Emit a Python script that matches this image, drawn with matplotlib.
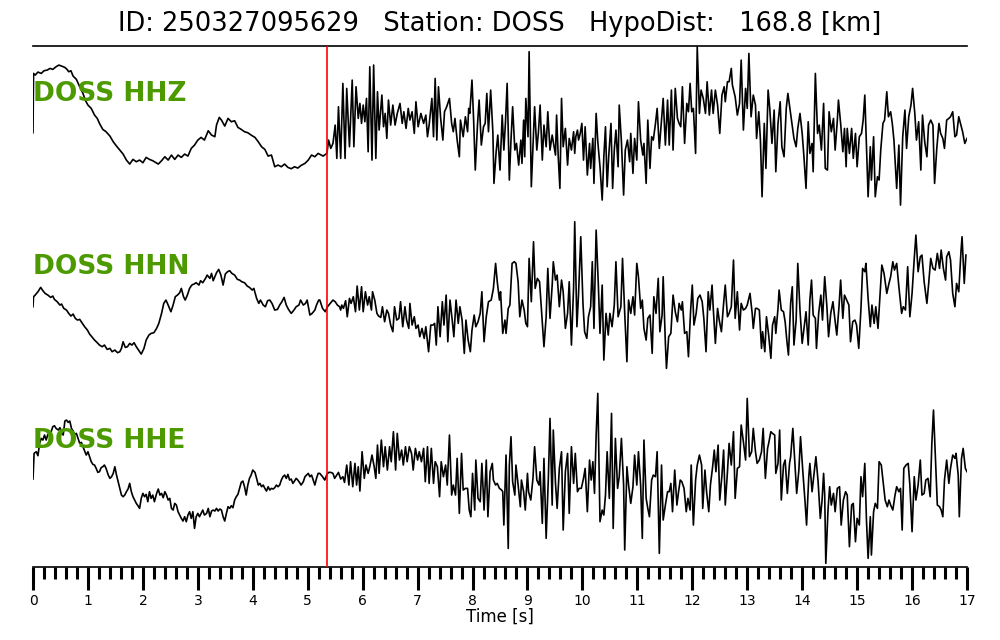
import matplotlib
matplotlib.use('Agg')
import matplotlib.pyplot as plt
from matplotlib.ticker import MultipleLocator

# ---------------- data ----------------
event_id = '250327095629'
station = 'DOSS'
hypo_dist = 168.8
channels = ['HHZ', 'HHN', 'HHE']
pick_time = 5.35          # red marker [s]
t_end = 17
time_ticks = list(range(0, 18))

# (time [s], amplitude [counts]) samples at local extrema of each trace
HHZ = [
    (0.00, -18), (0.01, 160), (0.04, 155), (0.09, 164), (0.15, 160), (0.20, 168), (0.26, 170), (0.31, 175),
    (0.36, 172), (0.42, 180), (0.47, 185), (0.52, 182), (0.58, 178), (0.62, 172), (0.65, 165), (0.69, 168),
    (0.73, 152), (0.79, 142), (0.85, 120), (0.91, 100), (0.95, 80), (1.00, 65), (1.06, 55), (1.12, 35),
    (1.17, 25), (1.21, 10), (1.27, -8), (1.33, -15), (1.40, -28), (1.46, -45), (1.52, -58), (1.58, -70),
    (1.64, -82), (1.70, -100), (1.76, -112), (1.82, -98), (1.88, -105), (1.94, -100), (2.00, -108), (2.06, -92),
    (2.12, -98), (2.18, -102), (2.28, -112), (2.34, -102), (2.40, -90), (2.46, -100), (2.52, -85), (2.58, -98),
    (2.64, -85), (2.70, -92), (2.76, -82), (2.82, -88), (2.88, -65), (2.94, -55), (3.00, -40), (3.06, -32),
    (3.12, -40), (3.19, -12), (3.25, -25), (3.31, -30), (3.34, 5), (3.39, 28), (3.43, 20), (3.49, 2),
    (3.55, 25), (3.61, 15), (3.67, 18), (3.73, -2), (3.79, -8), (3.85, -15), (3.91, -18), (3.97, -25),
    (4.04, -32), (4.10, -45), (4.16, -60), (4.22, -68), (4.28, -88), (4.34, -85), (4.40, -120), (4.46, -115),
    (4.52, -120), (4.58, -112), (4.64, -122), (4.70, -126), (4.76, -120), (4.82, -124), (4.88, -116), (4.95, -110),
    (5.01, -100), (5.07, -85), (5.13, -90), (5.19, -80),
    (5.28, -88), (5.35, -80), (5.38, -40), (5.42, -65), (5.46, -50), (5.50, 5), (5.53, -95), (5.56, 60),
    (5.60, -95), (5.64, 130), (5.68, -95), (5.71, 115), (5.76, -60), (5.81, 140), (5.84, -60), (5.88, 120),
    (5.92, 25), (5.95, 70), (5.98, 10), (6.01, 65), (6.04, 15), (6.07, 85), (6.10, -75), (6.13, 180),
    (6.17, -100), (6.20, 185), (6.24, -95), (6.27, 105), (6.30, -10), (6.35, 95), (6.38, 0), (6.41, 40),
    (6.44, -35), (6.47, 80), (6.51, 5), (6.55, 65), (6.59, 5), (6.63, 40), (6.68, 70), (6.72, 10),
    (6.75, 45), (6.79, -5), (6.83, 55), (6.86, 20), (6.90, 45), (6.94, -20), (6.97, 75), (7.01, 0),
    (7.06, 40), (7.11, 10), (7.15, 35), (7.18, -30), (7.21, 5), (7.26, 85), (7.29, -30), (7.32, 145),
    (7.35, -40), (7.38, 120), (7.42, 25), (7.46, -40), (7.49, 45), (7.53, 60), (7.58, 85), (7.62, 10),
    (7.65, -15), (7.68, 25), (7.72, -40), (7.76, -90), (7.78, 20), (7.83, -30), (7.87, 30), (7.91, -15),
    (7.93, 55), (7.95, 40), (7.99, 140), (8.02, 20), (8.05, -130), (8.09, 5), (8.12, 80), (8.16, -55),
    (8.20, 0), (8.23, 10), (8.26, 100), (8.29, -15), (8.33, 110), (8.37, -15), (8.39, -170), (8.43, -75),
    (8.46, -25), (8.50, -130), (8.54, 35), (8.57, -70), (8.60, 15), (8.63, 130), (8.67, -160), (8.70, -40),
    (8.73, 60), (8.77, -70), (8.80, -50), (8.84, -115), (8.88, -40), (8.90, -110), (8.93, 20), (8.95, -90),
    (8.97, 85), (9.01, -30), (9.03, 225), (9.07, -180), (9.10, -60), (9.13, 60), (9.17, -70), (9.20, -15),
    (9.23, 65), (9.27, -100), (9.30, 5), (9.34, -60), (9.37, 45), (9.41, -70), (9.45, -25), (9.47, -45),
    (9.51, -85), (9.53, 35), (9.56, -90), (9.59, -185), (9.62, 85), (9.65, -60), (9.69, -5), (9.73, -115),
    (9.76, -35), (9.80, -70), (9.84, -15), (9.86, -80), (9.88, -30), (9.91, -10), (9.93, -40), (9.96, -20),
    (9.99, 10), (10.02, -100), (10.05, 0), (10.09, -145), (10.13, -50), (10.15, -125), (10.19, -35), (10.21, -170),
    (10.25, 40), (10.28, -45), (10.32, -120), (10.36, -220), (10.39, -90), (10.42, 0), (10.45, -180), (10.48, -85),
    (10.52, 10), (10.55, -185), (10.58, -70), (10.61, -10), (10.65, -120), (10.67, 65), (10.71, -45), (10.75, -205),
    (10.78, -70), (10.82, -40), (10.86, -105), (10.88, -20), (10.92, -140), (10.95, -35), (10.99, -100), (11.02, 75),
    (11.06, -40), (11.10, -85), (11.12, -50), (11.16, -170),
    (11.19, 20), (11.23, -125), (11.26, -30), (11.29, -40), (11.33, 10), (11.36, 55), (11.40, -65), (11.44, 20),
    (11.47, 85), (11.51, -55), (11.55, 80), (11.58, -55), (11.62, 110), (11.65, -70), (11.69, 115), (11.73, 25),
    (11.76, 10), (11.79, 0), (11.82, 120), (11.86, -50), (11.90, 70), (11.93, 45), (11.96, 130), (11.99, 45),
    (12.02, 55), (12.06, -80), (12.09, 240), (12.13, 40), (12.16, 110), (12.20, 85), (12.24, 40), (12.27, 135),
    (12.31, 35), (12.35, 110), (12.38, 40), (12.42, 110), (12.46, 65), (12.50, -20), (12.54, 95), (12.58, 120),
    (12.60, 75), (12.64, 135), (12.67, 135), (12.71, 175), (12.73, 125), (12.78, 90), (12.82, 35), (12.86, 70),
    (12.89, 200), (12.93, -10), (12.97, 115), (13.00, 55), (13.03, 220), (13.07, 30), (13.11, 95), (13.15, 65),
    (13.17, -35), (13.21, 45), (13.24, -40), (13.27, -210), (13.31, 10), (13.34, -125), (13.38, 110), (13.41, 55),
    (13.45, -50), (13.49, 50), (13.52, -135), (13.56, 10), (13.60, 75), (13.63, -60), (13.67, -90), (13.71, 55),
    (13.74, 100), (13.78, 50), (13.82, 0), (13.85, -35), (13.89, -60), (13.92, -5), (13.96, 40), (14.00, -20),
    (14.03, -85), (14.07, -185), (14.11, 15), (14.14, -80), (14.18, -50), (14.20, -135), (14.24, 160), (14.28, -20),
    (14.31, 5), (14.35, -70), (14.39, 70), (14.42, -125), (14.46, -130), (14.49, 45), (14.53, -15), (14.57, 25),
    (14.60, -70), (14.64, 20), (14.66, 80), (14.70, 10), (14.74, -75), (14.77, -5), (14.80, -120), (14.82, -5),
    (14.86, -80), (14.90, -5), (14.93, -95), (14.97, -20), (15.00, -120), (15.04, -30), (15.08, -20), (15.11, 20),
    (15.14, 95), (15.17, -60), (15.20, -210), (15.24, -60), (15.26, -160), (15.30, -30), (15.33, -210), (15.37, -150),
    (15.40, -160), (15.43, -70), (15.47, 10), (15.50, 20), (15.54, 105), (15.57, 30), (15.61, 45), (15.64, 10),
    (15.67, -40), (15.72, -185), (15.76, -55), (15.79, -235), (15.83, -30), (15.87, 50), (15.90, -65), (15.94, 30),
    (15.98, 65), (16.01, 115), (16.05, 40), (16.08, -40), (16.12, 15), (16.16, -130), (16.19, 35), (16.23, -45),
    (16.27, -90), (16.30, 5), (16.34, 20), (16.38, 5), (16.41, -170), (16.45, -65), (16.49, 10), (16.52, -20),
    (16.56, -35), (16.59, -65), (16.63, 20), (16.67, 25), (16.70, 30), (16.74, 45), (16.78, -30), (16.81, -25),
    (16.85, 30), (16.89, 5), (16.92, -15), (16.96, -50), (17.00, -35),
]

HHN = [
    (0.00, -30), (0.01, 0), (0.04, 5), (0.09, 15), (0.14, 28), (0.18, 18), (0.22, 10), (0.27, 5),
    (0.32, -2), (0.36, 2), (0.39, -8), (0.44, -15), (0.49, -25), (0.52, -22), (0.56, -35), (0.61, -40),
    (0.65, -50), (0.69, -58), (0.73, -52), (0.77, -65), (0.81, -70), (0.85, -68), (0.89, -78), (0.94, -90),
    (0.99, -100), (1.03, -112), (1.07, -120), (1.12, -130), (1.17, -138), (1.21, -145), (1.26, -150), (1.30, -145),
    (1.35, -158), (1.40, -155), (1.44, -165), (1.49, -160), (1.54, -168), (1.58, -165), (1.61, -155), (1.64, -135),
    (1.68, -152), (1.72, -150), (1.76, -140), (1.80, -145), (1.84, -138), (1.88, -150), (1.92, -160), (1.97, -172),
    (2.02, -155), (2.06, -130), (2.11, -115), (2.15, -110), (2.20, -108), (2.25, -95), (2.29, -80), (2.34, -50),
    (2.38, -20), (2.42, -10), (2.46, -25), (2.51, -45), (2.55, -25), (2.59, 0), (2.63, 5), (2.67, 12),
    (2.70, 25), (2.74, 0), (2.77, -10), (2.81, 5), (2.85, 25), (2.89, 35), (2.93, 38), (2.97, 42),
    (3.02, 35), (3.05, 48), (3.09, 42), (3.14, 55), (3.17, 65), (3.22, 55), (3.25, 70), (3.28, 48),
    (3.31, 60), (3.34, 72), (3.38, 82), (3.42, 65), (3.46, 35), (3.50, 68), (3.54, 75), (3.58, 78),
    (3.62, 70), (3.67, 65), (3.72, 52), (3.76, 50), (3.80, 45), (3.85, 42), (3.90, 32), (3.94, 28),
    (3.99, 20), (4.02, 25), (4.07, -5), (4.11, -20), (4.14, -10), (4.19, -25), (4.23, -30), (4.27, -12),
    (4.31, -10), (4.35, -20), (4.40, -40), (4.45, -38), (4.49, -25), (4.53, -15), (4.57, -2), (4.61, -25),
    (4.65, -38), (4.70, -50), (4.75, -40), (4.79, -30), (4.84, -25), (4.87, -10), (4.92, -25), (4.96, -20),
    (4.99, -10), (5.04, -55), (5.08, -50), (5.13, -40), (5.16, -25), (5.20, -10),
    (5.22, -10), (5.27, -35), (5.32, -45), (5.36, -30), (5.41, -20), (5.46, -10), (5.50, -15), (5.54, -25),
    (5.58, -30), (5.60, -40), (5.62, -25), (5.65, -35), (5.69, -12), (5.72, -60), (5.76, -5), (5.79, -20),
    (5.83, 0), (5.87, -45), (5.90, 32), (5.94, -40), (5.98, 30), (6.01, -45), (6.05, 15), (6.09, -25),
    (6.12, 0), (6.16, -40), (6.18, 15), (6.22, -10), (6.26, -50), (6.29, -58), (6.33, -62), (6.36, -30),
    (6.40, -75), (6.44, -40), (6.47, -50), (6.51, -85), (6.55, -105), (6.58, -30), (6.62, -70), (6.66, -65),
    (6.69, -15), (6.73, -90), (6.77, -30), (6.80, -70), (6.84, -95), (6.86, -20), (6.90, -85), (6.94, -60),
    (6.97, -95), (7.01, -85), (7.04, -120), (7.08, -95), (7.12, -125), (7.15, -90), (7.20, -165), (7.24, -85),
    (7.28, -85), (7.31, -80), (7.34, -145), (7.37, -30), (7.41, -120), (7.45, -15), (7.48, -85), (7.52, 5),
    (7.55, -135), (7.59, -10), (7.63, -70), (7.66, -120), (7.70, -10), (7.74, -80), (7.77, -30), (7.81, -70),
    (7.85, -170), (7.88, -70), (7.92, -130), (7.96, -165), (7.99, -100), (8.03, -55), (8.06, -90), (8.10, -75),
    (8.14, -50), (8.17, 15), (8.21, -135), (8.25, -60), (8.29, -15), (8.34, -10), (8.38, 25), (8.42, 100),
    (8.45, 45), (8.49, -10), (8.51, 15), (8.55, -110), (8.59, -70), (8.61, -110), (8.65, -35), (8.68, -25),
    (8.72, 100), (8.76, 105), (8.79, 100), (8.83, 45), (8.86, -60), (8.90, -10), (8.94, -40), (8.97, -80),
    (9.00, -90), (9.03, 115), (9.07, -15), (9.11, 165), (9.14, 25), (9.18, 55), (9.22, 45), (9.25, -30),
    (9.30, -150), (9.34, -60), (9.37, 85), (9.41, -65), (9.45, 35), (9.47, 105), (9.51, 50), (9.54, 65),
    (9.58, -30), (9.62, 50), (9.65, 15), (9.69, -95), (9.73, -50), (9.76, 45), (9.80, -145), (9.84, 30),
    (9.86, 225), (9.90, -90), (9.93, 10), (9.97, 180), (10.01, -20), (10.04, -105), (10.08, -125), (10.11, -60),
    (10.15, -30), (10.18, 105), (10.21, -95), (10.25, 200), (10.29, 35), (10.32, -110), (10.36, 35), (10.39, -190),
    (10.43, -50), (10.47, -115), (10.50, -50), (10.54, -90), (10.58, -25), (10.61, 105), (10.65, -60), (10.70, -30),
    (10.73, 115), (10.77, -50), (10.81, -195), (10.84, -10), (10.88, -50), (10.92, 0), (10.95, -55), (10.99, 100),
    (11.02, 60), (11.06, -35), (11.09, -10), (11.12, -95), (11.16, -130),
    (11.19, -65), (11.23, -55), (11.27, -170), (11.30, 0), (11.34, -50), (11.38, 55), (11.41, -105), (11.45, -55),
    (11.47, 60), (11.51, -140), (11.53, -215), (11.57, -120), (11.61, -110), (11.65, 5), (11.69, -45), (11.73, -75),
    (11.76, -20), (11.80, -40), (11.82, -15), (11.86, -110), (11.90, -105), (11.93, -180), (11.97, -40), (12.00, 35),
    (12.03, -85), (12.07, -50), (12.10, -5), (12.14, 5), (12.18, -15), (12.21, -65), (12.25, -165), (12.29, 15),
    (12.32, -40), (12.36, 35), (12.38, -30), (12.42, -140), (12.46, -35), (12.49, -70), (12.53, -105), (12.57, -20),
    (12.60, 35), (12.64, -60), (12.67, -50), (12.71, -30), (12.75, 110), (12.78, -65), (12.82, 15), (12.86, -100),
    (12.89, -20), (12.93, -40), (12.97, -35), (13.00, -25), (13.05, 10), (13.09, -50), (13.11, -95), (13.15, -35),
    (13.18, -35), (13.22, -40), (13.26, -155), (13.28, -105), (13.32, -165), (13.35, -60), (13.39, -115), (13.43, -185),
    (13.46, -85), (13.50, -60), (13.52, -110), (13.56, -35), (13.58, 20), (13.62, -40), (13.66, -45), (13.69, -75),
    (13.72, -130), (13.75, -175), (13.79, -20), (13.82, 30), (13.85, -145), (13.89, -70), (13.92, 100), (13.96, -40),
    (14.00, -140), (14.03, -100), (14.07, -45), (14.11, -145), (14.14, -10), (14.17, 50), (14.20, -55), (14.24, -65),
    (14.26, -155), (14.30, -50), (14.34, 5), (14.37, -70), (14.41, 60), (14.45, -30), (14.48, -120), (14.52, -50),
    (14.56, -15), (14.59, -60), (14.63, -115), (14.67, -30), (14.70, 50), (14.74, -65), (14.77, 5), (14.81, -10),
    (14.85, -25), (14.88, -135), (14.92, -75), (14.96, -70), (14.99, -85), (15.03, -155), (15.07, -35), (15.10, 85),
    (15.14, 75), (15.16, 100), (15.20, -5), (15.24, -90), (15.27, -25), (15.31, -80), (15.34, -30), (15.38, -95),
    (15.42, 15), (15.45, 95), (15.49, 70), (15.54, 10), (15.58, 40), (15.61, 60), (15.65, 105), (15.68, 80),
    (15.72, 100), (15.76, 30), (15.81, -50), (15.84, -30), (15.88, -40), (15.92, 90), (15.96, -60), (16.00, 10),
    (16.04, 115), (16.07, 185), (16.11, 75), (16.15, 120), (16.18, 125), (16.22, 45), (16.27, -20), (16.30, 35),
    (16.34, 115), (16.38, 85), (16.42, 80), (16.46, 130), (16.50, 85), (16.53, 140), (16.57, 85), (16.61, 50),
    (16.63, 120), (16.67, 135), (16.70, 110), (16.74, 10), (16.78, -30), (16.81, 40), (16.85, 15), (16.89, 135),
    (16.91, 180), (16.95, 40), (16.98, 125),
]

HHE = [
    (0.00, -22), (0.02, 55), (0.06, 60), (0.09, 48), (0.12, 85), (0.15, 100), (0.18, 95), (0.21, 110),
    (0.24, 95), (0.27, 112), (0.30, 110), (0.33, 120), (0.36, 135), (0.39, 138), (0.42, 130), (0.46, 125),
    (0.49, 132), (0.52, 120), (0.55, 110), (0.58, 152), (0.61, 155), (0.64, 148), (0.67, 152), (0.70, 130),
    (0.73, 122), (0.76, 112), (0.79, 115), (0.82, 100), (0.85, 85), (0.88, 88), (0.91, 75), (0.94, 62),
    (0.97, 50), (1.00, 60), (1.03, 45), (1.06, 30), (1.09, 22), (1.12, 20), (1.15, 10), (1.18, -2),
    (1.21, 0), (1.24, 12), (1.27, 15), (1.30, 20), (1.33, 10), (1.37, -10), (1.40, -20), (1.43, -15),
    (1.46, -5), (1.49, 15), (1.52, -10), (1.55, -30), (1.58, -50), (1.61, -70), (1.64, -75), (1.67, -70),
    (1.70, -60), (1.73, -52), (1.76, -35), (1.79, -60), (1.82, -75), (1.85, -85), (1.88, -95), (1.91, -102),
    (1.94, -110), (1.97, -80), (2.00, -65), (2.03, -75), (2.06, -68), (2.09, -90), (2.12, -60), (2.15, -80),
    (2.18, -70), (2.21, -90), (2.25, -65), (2.28, -52), (2.31, -70), (2.34, -65), (2.37, -78), (2.40, -60),
    (2.43, -70), (2.46, -85), (2.49, -80), (2.52, -110), (2.55, -115), (2.58, -95), (2.61, -100), (2.64, -120),
    (2.67, -130), (2.70, -140), (2.73, -148), (2.76, -135), (2.79, -150), (2.82, -130), (2.85, -120), (2.88, -140),
    (2.91, -120), (2.94, -170), (2.97, -135), (3.00, -125), (3.03, -135), (3.06, -125), (3.09, -115), (3.12, -130),
    (3.16, -125), (3.19, -110), (3.22, -135), (3.25, -118), (3.28, -115), (3.31, -118), (3.34, -110), (3.37, -118),
    (3.40, -112), (3.43, -115), (3.46, -135), (3.49, -148), (3.52, -125), (3.55, -105), (3.58, -110), (3.61, -102),
    (3.64, -108), (3.67, -85), (3.70, -75), (3.73, -68), (3.76, -50), (3.79, -32), (3.82, -28), (3.85, -45),
    (3.88, -70), (3.91, -40), (3.94, -20), (3.97, -10), (4.00, 5), (4.04, -2), (4.07, -20), (4.10, -40),
    (4.13, -35), (4.16, -45), (4.19, -40), (4.22, -50), (4.25, -58), (4.28, -45), (4.31, -55), (4.34, -50),
    (4.37, -52), (4.40, -48), (4.43, -40), (4.46, -45), (4.49, -40), (4.52, -25), (4.55, -15), (4.58, -10),
    (4.61, -20), (4.64, -8), (4.67, -25), (4.70, -22), (4.73, -35), (4.76, -28), (4.79, -20), (4.82, -25),
    (4.85, -32), (4.88, -40), (4.92, -30), (4.95, -15), (4.98, -10), (5.01, -5), (5.04, -15), (5.07, -10),
    (5.10, -25), (5.13, -40), (5.16, -20), (5.19, -5),
    (5.22, -5), (5.27, -15), (5.31, -25), (5.35, -8), (5.38, -2), (5.42, -2), (5.46, -5), (5.49, -20),
    (5.53, -10), (5.56, -2), (5.60, -22), (5.64, -15), (5.67, -32), (5.71, 20), (5.75, -40), (5.78, 30),
    (5.82, -45), (5.86, 25), (5.89, -40), (5.92, 15), (5.95, -58), (5.99, 60), (6.03, -20), (6.06, 20),
    (6.10, -5), (6.13, 15), (6.17, 50), (6.21, 15), (6.24, -20), (6.27, 80), (6.30, -5), (6.34, 95),
    (6.38, 15), (6.41, 75), (6.45, 5), (6.49, 75), (6.52, 30), (6.56, 120), (6.60, 5), (6.63, 115),
    (6.67, 35), (6.71, 65), (6.74, 20), (6.78, 75), (6.81, 30), (6.85, 75), (6.89, 55), (6.92, 5),
    (6.96, 70), (7.00, 35), (7.03, 60), (7.07, 30), (7.11, 70), (7.14, -30), (7.18, 75), (7.21, -35),
    (7.25, 70), (7.29, -35), (7.32, 30), (7.36, 15), (7.40, -75), (7.43, 30), (7.47, -15), (7.51, 20),
    (7.54, -40), (7.58, 110), (7.62, -70), (7.65, -40), (7.69, -70), (7.72, 40), (7.76, -125), (7.80, 55),
    (7.83, -55), (7.87, -50), (7.91, -50), (7.94, -115), (7.97, -135), (8.00, -5), (8.04, -115), (8.06, 35),
    (8.10, -80), (8.14, -90), (8.17, 25), (8.21, -115), (8.25, 35), (8.28, -135), (8.32, 0), (8.36, 25),
    (8.38, -25), (8.42, -40), (8.45, -35), (8.49, -50), (8.53, -55), (8.55, -60), (8.57, -160), (8.61, 50),
    (8.65, -230), (8.67, 20), (8.70, 105), (8.73, -30), (8.77, -70), (8.79, 20), (8.83, -40), (8.87, -105),
    (8.89, -25), (8.93, -60), (8.96, -115), (9.00, -5), (9.02, -60), (9.06, -85), (9.10, -20), (9.13, 75),
    (9.17, -25), (9.21, -40), (9.23, 0), (9.27, -155), (9.30, 40), (9.34, -200), (9.38, -20), (9.41, 160),
    (9.45, -100), (9.47, 125), (9.51, -35), (9.54, -110), (9.58, 10), (9.62, 60), (9.65, -175), (9.69, 0),
    (9.73, 55), (9.76, -125), (9.80, 75), (9.84, -35), (9.87, 55), (9.91, -60), (9.94, -50), (9.98, -50),
    (10.02, -20), (10.05, 10), (10.09, -120), (10.13, 35), (10.16, -25), (10.19, 30), (10.22, -65), (10.25, 110),
    (10.28, 235), (10.32, -150), (10.36, -115), (10.39, -130), (10.42, -70), (10.45, 60), (10.49, -80), (10.53, 175),
    (10.56, -170), (10.60, 100), (10.64, -50), (10.67, -15), (10.71, 100), (10.75, -40), (10.77, -235), (10.81, 15),
    (10.84, -40), (10.88, -95), (10.92, -45), (10.95, 50), (10.99, -40), (11.02, 60), (11.06, -40), (11.09, -200),
    (11.12, 95), (11.16, -80),
    (11.19, -110), (11.22, -135), (11.26, -25), (11.29, -10), (11.33, -15), (11.36, 60), (11.40, -245), (11.44, 20),
    (11.47, -145), (11.51, -100), (11.55, -60), (11.58, -60), (11.61, -35), (11.64, -120), (11.68, 5), (11.72, -100),
    (11.75, -60), (11.78, -25), (11.81, -30), (11.85, -50), (11.89, -120), (11.92, -80), (11.96, -115), (11.98, 20),
    (12.02, -160), (12.06, -25), (12.09, 20), (12.13, 50), (12.17, 20), (12.19, -110), (12.23, 5), (12.26, -60),
    (12.30, -120), (12.33, -40), (12.37, 15), (12.40, 65), (12.43, 0), (12.47, 80), (12.50, -85), (12.54, -10),
    (12.57, 65), (12.60, -100), (12.64, 0), (12.67, 85), (12.71, 20), (12.75, 120), (12.78, -80), (12.82, 10),
    (12.86, 15), (12.89, 140), (12.93, 90), (12.97, 35), (13.00, 220), (13.04, 45), (13.08, 60), (13.11, 130),
    (13.15, 60), (13.18, 25), (13.22, 35), (13.26, 60), (13.29, 130), (13.33, -20), (13.37, 70), (13.39, 85),
    (13.43, 120), (13.46, 115), (13.50, 110), (13.52, -5), (13.56, 25), (13.59, 125), (13.62, -85), (13.66, 20),
    (13.69, 35), (13.73, -65), (13.77, 25), (13.79, 45), (13.83, 130), (13.86, 45), (13.90, -65), (13.94, 5),
    (13.97, 105), (14.01, 5), (14.05, -85), (14.08, -160), (14.12, -15), (14.14, 25), (14.18, -60), (14.22, 0),
    (14.25, 45), (14.29, -30), (14.33, -140), (14.36, -90), (14.39, -5), (14.41, -70), (14.43, -275), (14.47, -115),
    (14.50, -45), (14.53, -100), (14.57, -65), (14.60, -120), (14.64, -50), (14.68, -45), (14.71, -160), (14.75, -85),
    (14.79, -60), (14.82, -70), (14.86, -225), (14.90, -100), (14.93, -95), (14.97, -210), (15.00, -140), (15.04, -160),
    (15.07, -15), (15.10, -75), (15.14, 25), (15.17, -145), (15.20, -260), (15.24, -135), (15.26, -250), (15.30, -120),
    (15.33, -95), (15.37, -110), (15.40, 30), (15.44, 20), (15.48, -40), (15.51, -85), (15.55, -105), (15.58, -85),
    (15.61, -100), (15.65, -115), (15.69, -70), (15.72, -45), (15.76, -60), (15.79, -50), (15.82, -175), (15.85, 10),
    (15.89, 20), (15.93, 25), (15.96, -40), (16.00, -180), (16.04, -15), (16.07, -85), (16.11, -40), (16.15, 35),
    (16.18, -70), (16.22, -65), (16.25, -25), (16.29, -20), (16.33, -75), (16.36, 85), (16.39, 185), (16.42, 65),
    (16.46, -100), (16.50, -105), (16.53, -115), (16.56, -135), (16.59, -25), (16.63, 35), (16.67, -35), (16.70, 10),
    (16.74, 50), (16.78, 40), (16.80, 55), (16.84, -10), (16.86, -135), (16.90, 40), (16.93, 70), (16.97, 10),
    (17.00, 0),
]

traces = [HHZ, HHN, HHE]

# ---------------- layout / style ----------------
trace_offsets = [242, 752, 1277]      # stacking offsets (counts below the top)
label_levels = [164, 684, 1207]
panel_depth = 1563
label_color = '#4c9a00'

fig = plt.figure(figsize=(10, 6.4), dpi=100)
ax = fig.add_axes([0.033, 0.114, 0.934, 0.814])

for data, off, lvl, ch in zip(traces, trace_offsets, label_levels, channels):
    t = [p[0] for p in data]
    y = [p[1] - off for p in data]
    ax.plot(t, y, color='black', lw=1.2)
    ax.text(0, -lvl, f'{station} {ch}', color=label_color, fontsize=19,
            fontweight='bold', ha='left', va='baseline', zorder=5)

ax.axvline(pick_time, color='red', lw=1.2, zorder=4)

ax.set_xlim(0, t_end)
ax.set_ylim(-panel_depth, 0)
ax.set_yticks([])
ax.set_xticks(time_ticks)
ax.xaxis.set_minor_locator(MultipleLocator(0.2))
ax.tick_params(axis='x', which='major', length=16.5, width=2.2, labelsize=10, pad=3, direction='out')
ax.tick_params(axis='x', which='minor', length=8.5, width=2.2, direction='out')
for s in ['left', 'right']:
    ax.spines[s].set_visible(False)
ax.spines['top'].set_linewidth(1.2)
ax.spines['bottom'].set_linewidth(1.2)
ax.set_xlabel('Time [s]', fontsize=12, labelpad=0)

fig.text(0.5, 1 - 24 / 640, f'ID: {event_id}   Station: {station}   HypoDist:   {hypo_dist} [km]',
         ha='center', va='center', fontsize=18.5)

fig.savefig('out.png', dpi=100)
